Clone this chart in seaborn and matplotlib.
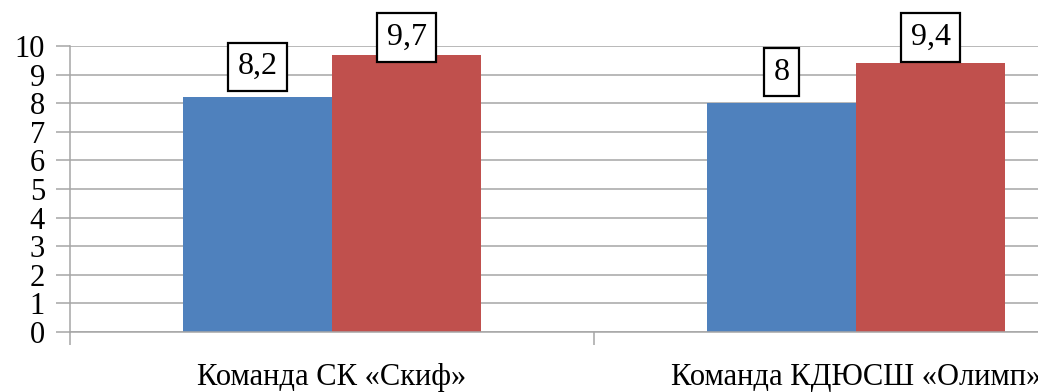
import matplotlib
matplotlib.use("Agg")
import matplotlib.pyplot as plt
import seaborn as sns
import pandas as pd
from matplotlib.ticker import MultipleLocator, FixedLocator

teams = ["Команда СК «Скиф»", "Команда КДЮСШ «Олимп»"]
series_names = ["Серия 1", "Серия 2"]
series_1 = [8.2, 8]
series_2 = [9.7, 9.4]
value_labels = {8.2: "8,2", 9.7: "9,7", 8: "8", 9.4: "9,4"}

df = pd.DataFrame({
    "team": teams * 2,
    "series": [series_names[0]] * len(teams) + [series_names[1]] * len(teams),
    "value": series_1 + series_2,
})

sns.set_theme(style="white")
plt.rcParams["font.family"] = "serif"
plt.rcParams["font.serif"] = ["Liberation Serif", "DejaVu Serif"]

SERIF = "Liberation Serif"

W, H = 1038, 392
fig = plt.figure(figsize=(W / 100, H / 100), dpi=100)
# plot area runs past the right edge of the canvas
ax = fig.add_axes([70 / W, 60 / H, (1118 - 70) / W, (332 - 46) / H])

sns.barplot(data=df, x="team", y="value", hue="series",
            palette=["#4F81BD", "#C0504D"], width=0.57, gap=0,
            saturation=1, legend=False, ax=ax, edgecolor="none")

ax.set_xlim(-0.5, 1.5)
ax.set_ylim(0, 10)
ax.yaxis.set_major_locator(MultipleLocator(1))
ax.grid(axis="y", color="#A6A6A6", linewidth=1.1, zorder=0)
ax.set_axisbelow(True)

for side in ["top", "right"]:
    ax.spines[side].set_visible(False)
for side in ["left", "bottom"]:
    ax.spines[side].set_color("#A6A6A6")
    ax.spines[side].set_linewidth(1.1)

ax.tick_params(axis="y", which="major", length=10, width=1.1, color="#A6A6A6",
               labelsize=22, pad=8, left=True)
ax.tick_params(axis="x", which="major", length=0, labelsize=22, pad=22)
ax.xaxis.set_minor_locator(FixedLocator([-0.5, 0.5, 1.5]))
ax.tick_params(axis="x", which="minor", length=9, width=1.1, color="#A6A6A6",
               bottom=True)
for lbl in ax.get_yticklabels() + ax.get_xticklabels():
    lbl.set_color("black")
    lbl.set_fontfamily(SERIF)
ax.set_xlabel("")
ax.set_ylabel("")

# boxed value labels above each bar, kept inside the plot area
for container in ax.containers:
    for bar in container:
        h = bar.get_height()
        x = bar.get_x() + bar.get_width() / 2
        bottom = min(h + 0.28, 9.5)
        ax.text(x, bottom + 0.8, value_labels[h], ha="center", va="center",
                fontsize=23, color="black", fontfamily=SERIF,
                bbox=dict(boxstyle="square,pad=0.3", facecolor="white",
                          edgecolor="black", linewidth=1.6),
                clip_on=False, zorder=5)

fig.savefig("out.png", dpi=100)
